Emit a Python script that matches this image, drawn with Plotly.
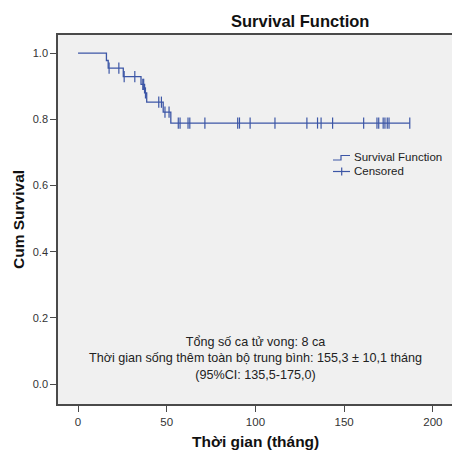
import plotly.graph_objects as go

# Kaplan-Meier step curve (time in months, cumulative survival)
step_time = [0, 16, 17, 25.5, 35.5, 37.5, 38.7, 48, 52.3, 187]
step_surv = [1.0, 0.978, 0.955, 0.929, 0.906, 0.880, 0.852, 0.822, 0.789, 0.789]

# Censored observations
cens_time = [17.5, 23, 26, 32, 36.5, 37, 38, 45.5, 47, 49, 51.3,
             56.5, 57.5, 62, 63, 71.5, 90, 91, 97, 111, 129, 135, 137,
             143.5, 161, 168.5, 169.5, 172, 173, 174.3, 175.3, 187]
cens_surv = [0.955, 0.955, 0.929, 0.929, 0.906, 0.906, 0.880, 0.852, 0.852, 0.822, 0.822,
             0.789, 0.789, 0.789, 0.789, 0.789, 0.789, 0.789, 0.789, 0.789, 0.789, 0.789, 0.789,
             0.789, 0.789, 0.789, 0.789, 0.789, 0.789, 0.789, 0.789, 0.789]

x_ticks = [0, 50, 100, 150, 200]
y_ticks = [0.0, 0.2, 0.4, 0.6, 0.8, 1.0]
y_tick_labels = ["0.0", "0.2", "0.4", "0.6", "0.8", "1.0"]

title_text = "Survival Function"
x_title = "Thời gian (tháng)"
y_title = "Cum Survival"
legend_labels = ["Survival Function", "Censored"]
note_lines = [
    "Tổng số ca tử vong: 8 ca",
    "Thời gian sống thêm toàn bộ trung bình: 155,3 ± 10,1 tháng",
    "(95%CI: 135,5-175,0)",
]

LINE = "#3c56a6"
FONT = "Arial, Liberation Sans, sans-serif"
FRAME = "#4a4a4a"
W, H = 452, 451
L, T, B = 58, 35, 47

fig = go.Figure()
fig.add_trace(go.Scatter(x=step_time, y=step_surv, mode="lines",
                         line=dict(color=LINE, width=1.3, shape="hv"),
                         showlegend=False, hoverinfo="skip"))
fig.add_trace(go.Scatter(x=cens_time, y=cens_surv, mode="markers",
                         marker=dict(symbol="line-ns-open", size=8, color=LINE,
                                     line=dict(color=LINE, width=1.2)),
                         showlegend=False, hoverinfo="skip"))

def py2paper(py):
    return 1 - (py - T) / (H - T - B)

def px2paper(px):
    return (px - L) / (W - L)

# Note text inside the plot
fig.add_annotation(x=100, xref="x", y=py2paper(358.5), yref="paper",
                   text="<br>".join(note_lines), showarrow=False, align="center",
                   xanchor="center", yanchor="middle",
                   font=dict(family=FONT, size=12.6, color="#222"))

# Custom legend
lx0, lx1, lxm = px2paper(333), px2paper(350), px2paper(341)
fig.add_shape(type="path", xref="paper", yref="paper",
              path=f"M {lx0},{py2paper(160)} L {lxm},{py2paper(160)} L {lxm},{py2paper(155.5)} L {lx1},{py2paper(155.5)}",
              line=dict(color=LINE, width=1.2))
fig.add_shape(type="line", xref="paper", yref="paper", x0=lx0, x1=lx1,
              y0=py2paper(171.5), y1=py2paper(171.5), line=dict(color=LINE, width=1.2))
fig.add_shape(type="line", xref="paper", yref="paper", x0=px2paper(341.7), x1=px2paper(341.7),
              y0=py2paper(167.5), y1=py2paper(175.5), line=dict(color=LINE, width=1.2))
for lab, py in zip(legend_labels, [157, 171.5]):
    fig.add_annotation(x=px2paper(352), y=py2paper(py), xref="paper", yref="paper",
                       text=lab, showarrow=False, xanchor="left", yanchor="middle",
                       font=dict(family=FONT, size=11.5, color="#222"))

# Titles
fig.add_annotation(x=px2paper(300), y=py2paper(21), xref="paper", yref="paper",
                   text=f"<b>{title_text}</b>", showarrow=False, xanchor="center", yanchor="middle",
                   font=dict(family=FONT, size=16.5, color="#111"))
fig.add_annotation(x=px2paper(255.5), y=py2paper(441), xref="paper", yref="paper",
                   text=f"<b>{x_title}</b>", showarrow=False, xanchor="center", yanchor="middle",
                   font=dict(family=FONT, size=15.5, color="#111"))
fig.add_annotation(x=px2paper(18.5), y=py2paper(219.5), xref="paper", yref="paper",
                   text=f"<b>{y_title}</b>", showarrow=False, xanchor="center", yanchor="middle",
                   textangle=-90, font=dict(family=FONT, size=15.5, color="#111"))

fig.update_layout(
    width=W, height=H,
    margin=dict(l=L, r=0, t=T, b=B),
    paper_bgcolor="white", plot_bgcolor="#f0f0f0",
    font=dict(family=FONT, color="#222"),
    xaxis=dict(range=[-11.3, 210.8], tickvals=x_ticks, ticks="outside", ticklen=6,
               tickcolor=FRAME, showline=True, linecolor=FRAME, linewidth=1.5, mirror=True,
               showgrid=False, zeroline=False, tickfont=dict(size=11.5, color="#333")),
    yaxis=dict(range=[-0.06, 1.055], tickvals=y_ticks, ticktext=y_tick_labels, ticks="outside",
               ticklen=6, tickcolor=FRAME, showline=True, linecolor=FRAME, linewidth=1.5,
               mirror=False, showgrid=False, zeroline=False, tickfont=dict(size=11, color="#333")),
)

fig.write_html("out.html", config={"displayModeBar": False},
               post_script="document.body.style.margin='0';document.body.style.overflow='hidden';")
